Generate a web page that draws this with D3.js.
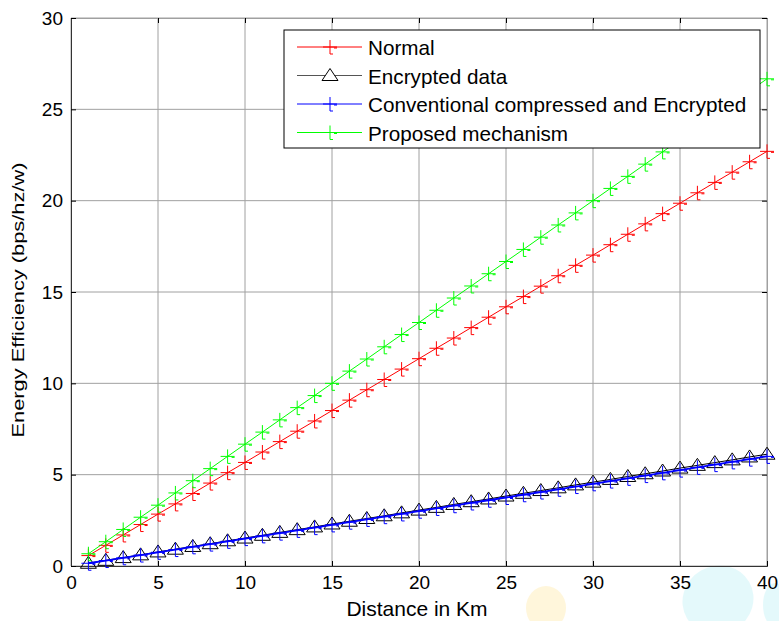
<!DOCTYPE html>
<html>
<head>
<meta charset="utf-8">
<script src="https://cdn.jsdelivr.net/npm/d3@7"></script>
<style>
  body { margin: 0; background: #fff; }
  text { font-family: "Liberation Sans", Arial, sans-serif; }
</style>
</head>
<body>
<div id="chart"></div>
<script>
// Chart size
var svgWidth = 779;
var svgHeight = 621;

var margin = { top: 18, right: 12, bottom: 55, left: 71 };
var width = svgWidth - margin.left - margin.right;
var height = svgHeight - margin.top - margin.bottom;

// Data
var distance = [1,2,3,4,5,6,7,8,9,10,11,12,13,14,15,16,17,18,19,20,
  21,22,23,24,25,26,27,28,29,30,31,32,33,34,35,36,37,38,39,40];

var normal = [0.57,1.13,1.70,2.27,2.84,3.40,3.97,4.54,5.11,5.67,6.24,6.81,7.38,7.94,
  8.51,9.08,9.65,10.21,10.78,11.35,11.92,12.48,13.05,13.62,14.19,14.75,15.32,15.89,
  16.46,17.02,17.59,18.16,18.73,19.29,19.86,20.43,21.00,21.56,22.13,22.70];

var encrypted = [0.15,0.31,0.46,0.61,0.77,0.92,1.07,1.22,1.38,1.53,1.68,1.84,1.99,2.14,
  2.30,2.45,2.60,2.75,2.91,3.06,3.21,3.37,3.52,3.67,3.83,3.98,4.13,4.28,4.44,4.59,
  4.74,4.90,5.05,5.20,5.36,5.51,5.66,5.81,5.97,6.12];

var conventional = [0.15,0.30,0.45,0.60,0.75,0.90,1.05,1.20,1.35,1.50,1.65,1.80,1.95,2.10,
  2.25,2.40,2.55,2.70,2.85,3.00,3.15,3.30,3.45,3.60,3.75,3.90,4.05,4.20,4.35,4.50,
  4.65,4.80,4.95,5.10,5.25,5.40,5.55,5.70,5.85,6.00];

var proposed = [0.67,1.33,2.00,2.67,3.33,4.00,4.67,5.33,6.00,6.67,7.33,8.00,8.67,9.33,
  10.00,10.67,11.33,12.00,12.67,13.33,14.00,14.67,15.33,16.00,16.67,17.33,18.00,18.67,
  19.33,20.00,20.67,21.33,22.00,22.67,23.33,24.00,24.67,25.33,26.00,26.67];

var seriesNames = ["Normal", "Encrypted data", "Conventional compressed and Encrypted", "Proposed mechanism"];
var seriesColors = ["#ff0000", "#000000", "#0000ff", "#00ff00"];
var seriesMarkers = ["plus", "triangle", "plus", "plus"];
var seriesValues = [normal, encrypted, conventional, proposed];

var xTicks = [0, 5, 10, 15, 20, 25, 30, 35, 40];
var yTicks = [0, 5, 10, 15, 20, 25, 30];

var svg = d3.select("#chart")
  .append("svg")
  .attr("width", svgWidth)
  .attr("height", svgHeight);

// faint watermark blobs at the bottom of the scan
var blobs = svg.append("g").attr("opacity", 0.3);
blobs.append("ellipse").attr("cx", 718).attr("cy", 600).attr("rx", 36).attr("ry", 34)
  .attr("transform", "rotate(-30, 718, 600)").attr("fill", "#a8eef5");
blobs.append("ellipse").attr("cx", 775).attr("cy", 605).attr("rx", 12).attr("ry", 22).attr("fill", "#a8eef5");
blobs.append("ellipse").attr("cx", 546).attr("cy", 608).attr("rx", 20).attr("ry", 22).attr("fill", "#ffe38a");

var chartGroup = svg.append("g")
  .attr("transform", `translate(${margin.left}, ${margin.top})`);

var xScale = d3.scaleLinear().domain([0, 40]).range([0, width]);
var yScale = d3.scaleLinear().domain([0, 30]).range([height, 0]);

// Grid lines
chartGroup.append("g")
  .selectAll("line")
  .data(xTicks)
  .enter()
  .append("line")
  .attr("x1", d => xScale(d))
  .attr("x2", d => xScale(d))
  .attr("y1", 0)
  .attr("y2", height)
  .attr("stroke", "#a0a0a0")
  .attr("stroke-width", 1);

chartGroup.append("g")
  .selectAll("line")
  .data(yTicks)
  .enter()
  .append("line")
  .attr("x1", 0)
  .attr("x2", width)
  .attr("y1", d => yScale(d))
  .attr("y2", d => yScale(d))
  .attr("stroke", "#a0a0a0")
  .attr("stroke-width", 1);

// Axes with inward ticks
var bottomAxis = d3.axisBottom(xScale).tickValues(xTicks).tickSize(-5).tickPadding(10);
var leftAxis = d3.axisLeft(yScale).tickValues(yTicks).tickSize(-5).tickPadding(8);
var topAxis = d3.axisTop(xScale).tickValues(xTicks).tickSize(-5).tickFormat("");
var rightAxis = d3.axisRight(yScale).tickValues(yTicks).tickSize(-5).tickFormat("");

function styleAxis(g, domainColor) {
  g.select(".domain").attr("stroke", domainColor);
  g.selectAll(".tick line").attr("stroke", "#000");
  g.selectAll(".tick text")
    .attr("font-size", "19px")
    .attr("fill", "#000")
    .style("font-family", "'Liberation Sans', Arial, sans-serif");
}

chartGroup.append("g").call(topAxis).call(g => styleAxis(g, "#a0a0a0"));
chartGroup.append("g").attr("transform", `translate(${width}, 0)`)
  .call(rightAxis).call(g => styleAxis(g, "#a0a0a0"));
chartGroup.append("g").attr("transform", `translate(0, ${height})`)
  .call(bottomAxis).call(g => styleAxis(g, "#333"));
chartGroup.append("g")
  .call(leftAxis).call(g => styleAxis(g, "#333"));

// Marker shapes
var plusPath = "M-7,0H7M0,-7V7M0,7H3M4,1H7";
var triPath = "M0,-7L8,5L-8,5Z";

function markerPath(kind) {
  return kind === "triangle" ? triPath : plusPath;
}

var line = d3.line()
  .x((d, i) => xScale(distance[i]))
  .y(d => yScale(d));

// Draw series in legend order
seriesValues.forEach(function(values, s) {
  var g = chartGroup.append("g");
  g.append("path")
    .datum(values)
    .attr("d", line)
    .attr("fill", "none")
    .attr("stroke", seriesColors[s])
    .attr("stroke-width", s === 2 ? 1.8 : 1);

  g.selectAll("path.mk")
    .data(values)
    .enter()
    .append("path")
    .attr("class", "mk")
    .attr("transform", (d, i) => `translate(${xScale(distance[i])}, ${yScale(d)})`)
    .attr("d", markerPath(seriesMarkers[s]))
    .attr("fill", "none")
    .attr("stroke", seriesColors[s])
    .attr("stroke-width", 1);
});

// Axis labels
svg.append("text")
  .attr("x", 417)
  .attr("y", 616)
  .attr("text-anchor", "middle")
  .attr("font-size", "21px")
  .text("Distance in Km");

svg.append("text")
  .attr("transform", "translate(23.5, 300) rotate(-90)")
  .attr("text-anchor", "middle")
  .attr("font-size", "16.5px")
  .attr("textLength", 275)
  .attr("lengthAdjust", "spacingAndGlyphs")
  .text("Energy Efficiency (bps/hz/w)");

// Legend
var legend = svg.append("g").attr("transform", "translate(284, 30)");
legend.append("rect")
  .attr("x", 0)
  .attr("y", 0)
  .attr("width", 476)
  .attr("height", 118)
  .attr("fill", "#fff")
  .attr("stroke", "#000")
  .attr("stroke-width", 1);

seriesNames.forEach(function(name, s) {
  var yy = 17 + s * 28.5;
  legend.append("line")
    .attr("x1", 13)
    .attr("x2", 78)
    .attr("y1", yy)
    .attr("y2", yy)
    .attr("stroke", s === 1 ? "#555" : seriesColors[s])
    .attr("stroke-width", 1);
  legend.append("path")
    .attr("transform", `translate(46, ${yy})`)
    .attr("d", markerPath(seriesMarkers[s]))
    .attr("fill", s === 1 ? "#fff" : "none")
    .attr("stroke", seriesColors[s])
    .attr("stroke-width", 1);
  legend.append("text")
    .attr("x", 84)
    .attr("y", yy + 8)
    .attr("font-size", "20.7px")
    .text(name);
});
</script>
</body>
</html>
